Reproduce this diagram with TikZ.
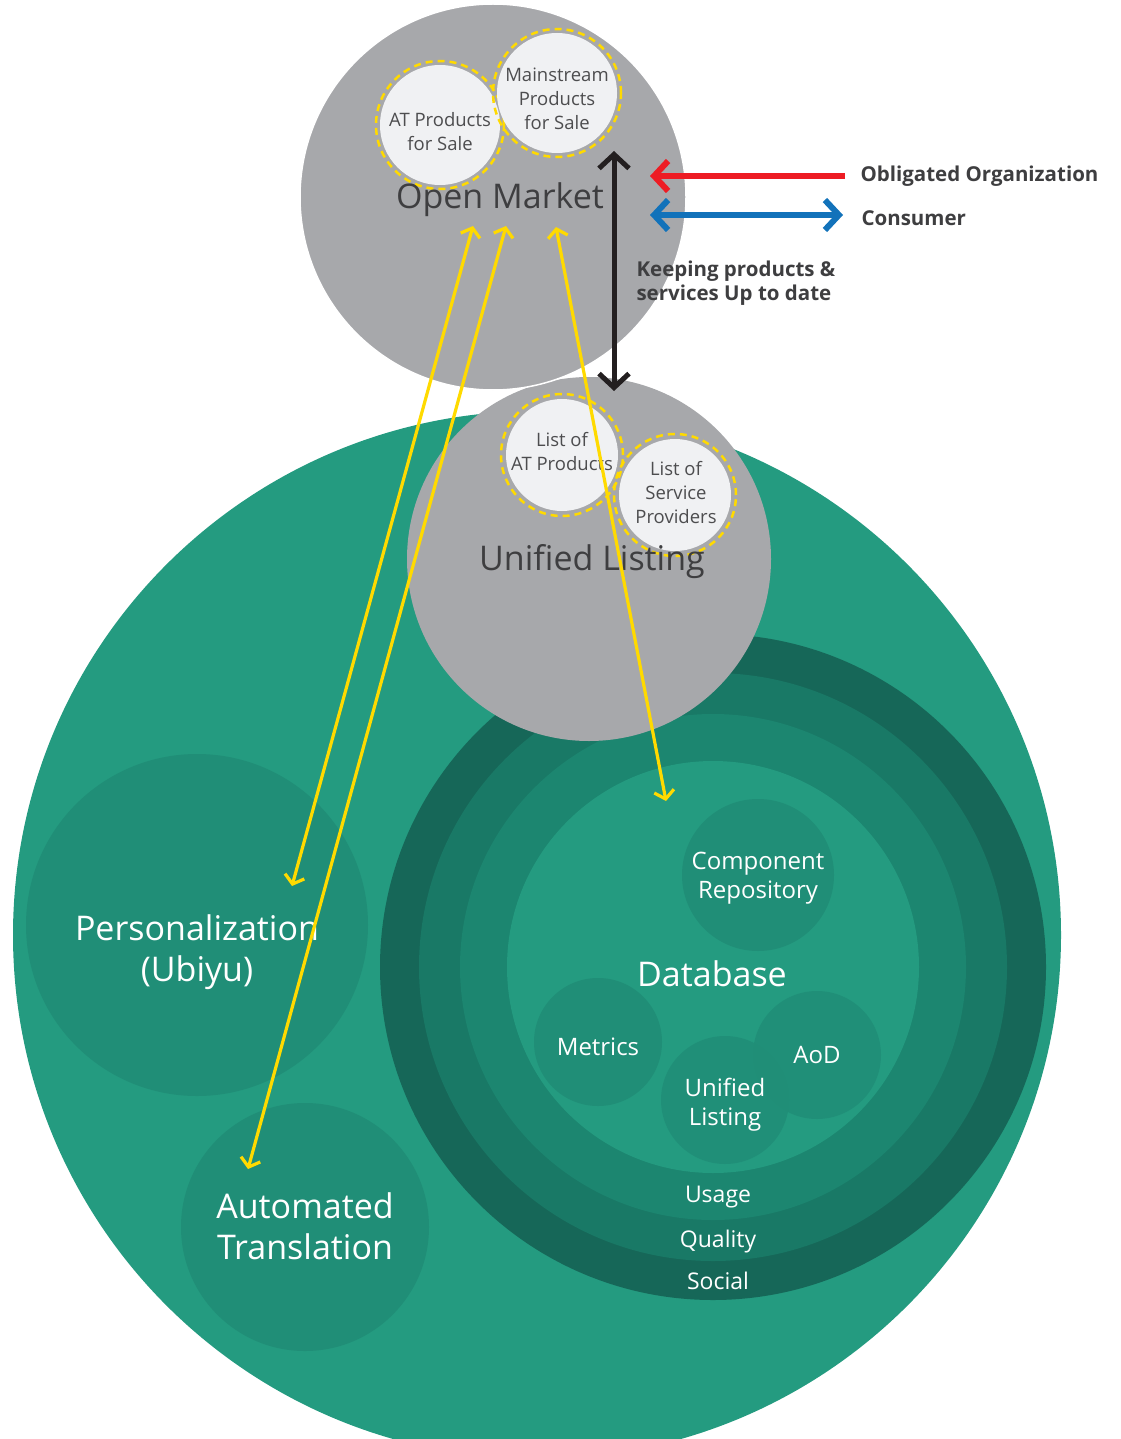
\documentclass[tikz,border=0pt]{standalone}
\usepackage{fontspec}
\setmainfont{Open Sans}
\usetikzlibrary{arrows.meta}
\definecolor{bggreen}{RGB}{36,155,128}
\definecolor{ringA}{RGB}{22,103,88}
\definecolor{ringB}{RGB}{25,121,102}
\definecolor{ringC}{RGB}{28,134,112}
\definecolor{subgreen}{RGB}{32,142,119}
\definecolor{cgray}{RGB}{167,168,171}
\definecolor{clight}{RGB}{240,241,243}
\definecolor{cyellow}{RGB}{255,218,0}
\definecolor{cred}{RGB}{237,28,36}
\definecolor{cblue}{RGB}{18,114,186}
\definecolor{cblack}{RGB}{35,31,32}
\definecolor{ctext}{RGB}{62,62,64}
\definecolor{csmall}{RGB}{77,77,79}
\tikzset{
  zone/.style={circle, inner sep=0pt, outer sep=0pt},
  graybig/.style={zone, fill=cgray},
  item/.style={zone, fill=clight},
  dashring/.style={circle, draw=cyellow, dash pattern=on 7pt off 5pt, line width=2.5pt, inner sep=0pt},
  bigtxt/.style={font=\fontsize{34}{41}\selectfont, align=center},
  graytxt/.style={bigtxt, text=ctext},
  whitebig/.style={bigtxt, text=white},
  smalltxt/.style={font=\fontsize{18.5}{24}\selectfont, align=center, text=csmall},
  midtxt/.style={font=\fontsize{24}{29}\selectfont, align=center, text=white},
  ringtxt/.style={font=\fontsize{23}{28}\selectfont, text=white},
  legtxt/.style={font=\bfseries\fontsize{20.5}{24.5}\selectfont, text=ctext, anchor=west, align=left},
  yarrow/.style={draw=cyellow, line width=3.2pt, {Straight Barb[length=8pt,width=20pt]}-{Straight Barb[length=8pt,width=20pt]}},
}
\begin{document}
\begin{tikzpicture}[x=1pt,y=-1pt]
\useasboundingbox (0,0) rectangle (1120,1439);
\clip (0,0) rectangle (1120,1439);
% big green world
\node[zone, fill=bggreen, minimum size=1048pt] (world) at (537,935) {};
% personalization and translation
\node[zone, fill=subgreen, minimum size=342pt] (pers) at (197,925) {};
\node[zone, fill=subgreen, minimum size=248pt] (trans) at (305,1227) {};
% database rings
\node[zone, fill=ringA, minimum size=666pt] (db1) at (713,967) {};
\node[zone, fill=ringB, minimum size=588pt] (db2) at (713,967) {};
\node[zone, fill=ringC, minimum size=506pt] (db3) at (713,967) {};
\node[zone, fill=bggreen, minimum size=412pt] (db4) at (713,967) {};
% database items
\node[zone, fill=subgreen, minimum size=152pt] (comp) at (758,875) {};
\node[zone, fill=subgreen, minimum size=128pt] (metr) at (598,1042) {};
\node[zone, fill=subgreen, fill opacity=0.85, minimum size=128pt] (aod) at (817,1055) {};
\node[zone, fill=subgreen, fill opacity=0.85, minimum size=128pt] (unil) at (725,1100) {};
% unified listing gray
\node[graybig, minimum size=364pt] (ul) at (589,559) {};
\node[item, minimum size=112pt] (latp) at (562,455) {};
\node[dashring, minimum size=122pt] (latpr) at (562,455) {};
\node[item, minimum size=112pt] (lsp) at (675,495) {};
\node[dashring, minimum size=122pt] (lspr) at (675,495) {};
% open market gray
\node[graybig, draw=white, line width=1.5pt, minimum size=386pt] (om) at (493,197) {};
\node[item, minimum size=120pt] (atp) at (440,125) {};
\node[dashring, minimum size=128pt] (atpr) at (440,125) {};
\node[item, minimum size=120pt] (msp) at (557,93) {};
\node[dashring, minimum size=128pt] (mspr) at (557,93) {};
% texts
\node[smalltxt] (atpt) at (440,132) {AT Products\\for Sale};
\node[smalltxt] (mspt) at (557,99) {Mainstream\\Products\\for Sale};
\node[graytxt] (omt) at (500,200) {Open Market};
\node[smalltxt] (latpt) at (562,452) {List of\\AT Products};
\node[smalltxt] (lspt) at (676,493) {List of\\Service\\Providers};
\node[graytxt] (ult) at (592,562) {Unified Listing};
\node[midtxt] (compt) at (758,878) {Component\\Repository};
\node[whitebig] (dbt) at (712,974) {Database};
\node[midtxt] (metrt) at (598,1047) {Metrics};
\node[midtxt] (aodt) at (817,1055) {AoD};
\node[midtxt] (unilt) at (725,1105) {Unified\\Listing};
\node[ringtxt] (usage) at (718,1197) {Usage};
\node[ringtxt] (qual) at (718,1242) {Quality};
\node[ringtxt] (soc) at (718,1281) {Social};
\node[whitebig] (perst) at (197,952) {Personalization\\(Ubiyu)};
\node[whitebig] (transt) at (305,1226) {Automated\\Translation};
\node[legtxt] (oblig) at (857,176) {Obligated Organization};
\node[legtxt] (cons) at (858,218) {Consumer};
\node[legtxt] (keep) at (633,283) {Keeping products \&\\services Up to date};
% connectors
\coordinate (ya1) at (473,226);
\coordinate (yb1) at (292,886);
\coordinate (ya2) at (506,226);
\coordinate (yb2) at (248,1169);
\coordinate (ya3) at (556,227);
\coordinate (yb3) at (666,801);
\draw[yarrow] (ya1) -- (yb1);
\draw[yarrow] (ya2) -- (yb2);
\draw[yarrow] (ya3) -- (yb3);
\coordinate (ka) at (614,151);
\coordinate (kb) at (614,391);
\draw[cblack, line width=5pt, {Straight Barb[length=14pt,width=30pt]}-{Straight Barb[length=14pt,width=30pt]}] (ka) -- (kb);
\coordinate (ra) at (845,176);
\coordinate (rb) at (650,176);
\draw[cred, line width=6pt, -{Straight Barb[length=14pt,width=30pt]}] (ra) -- (rb);
\coordinate (ba) at (650,215);
\coordinate (bb) at (843,215);
\draw[cblue, line width=6pt, {Straight Barb[length=14pt,width=30pt]}-{Straight Barb[length=14pt,width=30pt]}] (ba) -- (bb);
\end{tikzpicture}
\end{document}
